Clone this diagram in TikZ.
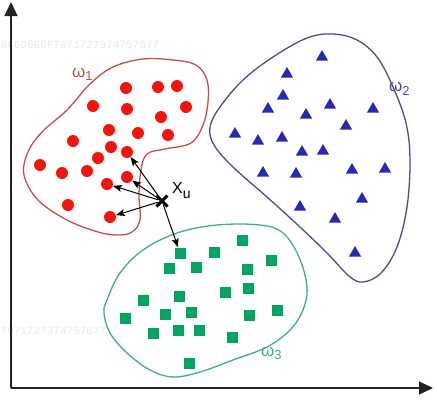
\documentclass[tikz,border=0pt]{standalone}
\usepackage{fontspec}
\setmainfont{Liberation Sans}
\newfontfamily\wmfont{Liberation Mono}
\usetikzlibrary{arrows.meta,shapes.geometric}
\definecolor{redline}{RGB}{205,75,70}
\definecolor{dotred}{RGB}{245,20,10}
\definecolor{blueline}{RGB}{75,75,155}
\definecolor{trifill}{RGB}{40,40,180}
\definecolor{greenline}{RGB}{60,175,145}
\definecolor{sqgreen}{RGB}{0,165,95}
\definecolor{axisgray}{RGB}{35,35,35}
\definecolor{wmgray}{RGB}{232,232,232}
\tikzset{
  reddot/.style={circle, fill=dotred, inner sep=0pt, minimum size=12pt},
  bluetri/.style={regular polygon, regular polygon sides=3, fill=trifill, inner sep=0pt, minimum size=14pt},
  greensq/.style={rectangle, fill=sqgreen, inner sep=0pt, minimum size=11pt},
  blob/.style={line width=1.3pt},
  axisline/.style={line width=1.4pt, draw=axisgray, -{Triangle[length=14pt,width=13pt]}},
  nnarrow/.style={line width=1pt, -{Stealth[length=9pt,width=7pt,inset=2pt]}},
  lab/.style={inner sep=0pt, font=\fontsize{17}{17}\selectfont},
  sub/.style={},
  wm/.style={inner sep=0pt, anchor=west, text=wmgray, font=\wmfont\fontsize{11}{11}\selectfont}
}
\newcommand{\labsub}[2]{\raisebox{#1}{\fontsize{13}{13}\selectfont #2}}
\begin{document}
\begin{tikzpicture}[x=1pt,y=-1pt]
\useasboundingbox (0,0) rectangle (437,402);
% watermarks
\node[wm] (wm1) at (0.5,45) {6C6D6E6F7071727374757677};
\node[wm] (wm2) at (0.5,331) {7071727374757677};
% axes
\coordinate (orig) at (11,388);
\coordinate (ytip) at (11,2);
\coordinate (xtip) at (433,388);
\draw[axisline] (orig) -- (ytip);
\draw[axisline] (orig) -- (xtip);
% red blob
\draw[blob, draw=redline] plot[smooth cycle, tension=0.6] coordinates {
 (143,59) (173,60) (196,65) (207,80) (208,102) (203,125) (191,143) (165,149) (147,154)
 (141,170) (139,195) (140,220) (132,232) (118,235) (98,232) (67,220) (38,200) (24,175)
 (28,152) (42,132) (67,110) (90,84) (113,67)};
% blue blob
\draw[blob, draw=blueline] plot[smooth cycle, tension=0.6] coordinates {
 (333,34) (357,40) (377,57) (393,87) (406,123) (410,160) (407,207) (397,247) (381,273)
 (363,282) (349,276) (327,253) (300,227) (267,197) (233,167) (214,145) (210,127)
 (220,107) (243,80) (273,57) (307,38)};
% green blob
\draw[blob, draw=greenline] plot[smooth cycle, tension=0.6] coordinates {
 (107,300) (120,273) (143,250) (177,233) (217,225) (260,225) (283,233) (299,257)
 (307,287) (303,310) (290,330) (267,347) (233,360) (200,372) (173,377) (150,370)
 (127,353) (110,333) (104,313)};
% labels
\node[lab, text=redline, anchor=base west] (l1) at (72,77) {ω\labsub{-3pt}{1}};
\node[lab, text=blueline, anchor=base west] (l2) at (389,91) {ω\labsub{-4pt}{2}};
\node[lab, text=greenline, anchor=base west] (l3) at (261,356) {ω\labsub{-3pt}{3}};
% red dots
\foreach \n/\p in {1/{(126,88)},2/{(158,87)},3/{(177,86)},4/{(93,106)},5/{(127,109)},
  6/{(161,117)},7/{(186,107)},8/{(109,130)},9/{(138,133)},10/{(168,135)},11/{(73,141)},
  12/{(111,147)},13/{(127,152)},14/{(98,158)},15/{(40,165)},16/{(62,173)},17/{(87,171)},
  18/{(127,177)},19/{(107,184)},20/{(68,205)},21/{(110,217)}}
  \node[reddot] (d\n) at \p {};
% blue triangles
\foreach \n/\p in {1/{(322,57)},2/{(287,74)},3/{(283,96)},4/{(268,109)},5/{(330,105)},
  6/{(306,115)},7/{(373,109)},8/{(346,126)},9/{(235,134)},10/{(258,141)},11/{(282,138)},
  12/{(302,152)},13/{(323,151)},14/{(263,173)},15/{(296,174)},16/{(352,170)},17/{(385,169)},
  18/{(362,199)},19/{(300,207)},20/{(335,219)},21/{(355,253)}}
  \node[bluetri] (t\n) at \p {};
% green squares
\foreach \n/\p in {1/{(242,240)},2/{(180,253)},3/{(214,252)},4/{(271,260)},5/{(169,268)},
  6/{(196,267)},7/{(247,269)},8/{(248,288)},9/{(225,292)},10/{(179,296)},11/{(143,300)},
  12/{(277,310)},13/{(191,312)},14/{(165,314)},15/{(249,315)},16/{(125,318)},17/{(178,330)},
  18/{(199,330)},19/{(153,333)},20/{(232,337)},21/{(189,363)}}
  \node[greensq] (s\n) at \p {};
% query point
\node[inner sep=0pt, minimum size=7pt] (xu) at (162,201) {};
\draw[line width=3pt] (156.5,195.5) -- (167.5,206.5) (156.5,206.5) -- (167.5,195.5);
\node[inner sep=0pt, anchor=base west, font=\fontsize{16}{16}\selectfont] (xul) at (172,193) {X\raisebox{-5pt}{\fontsize{14}{14}\selectfont u}};
% nearest-neighbour arrows
\draw[nnarrow] (xu) -- (d13);
\draw[nnarrow] (xu) -- (d18);
\draw[nnarrow] (xu) -- (d19);
\draw[nnarrow] (xu) -- (d21);
\draw[nnarrow] (xu) -- (s2);
\end{tikzpicture}
\end{document}
